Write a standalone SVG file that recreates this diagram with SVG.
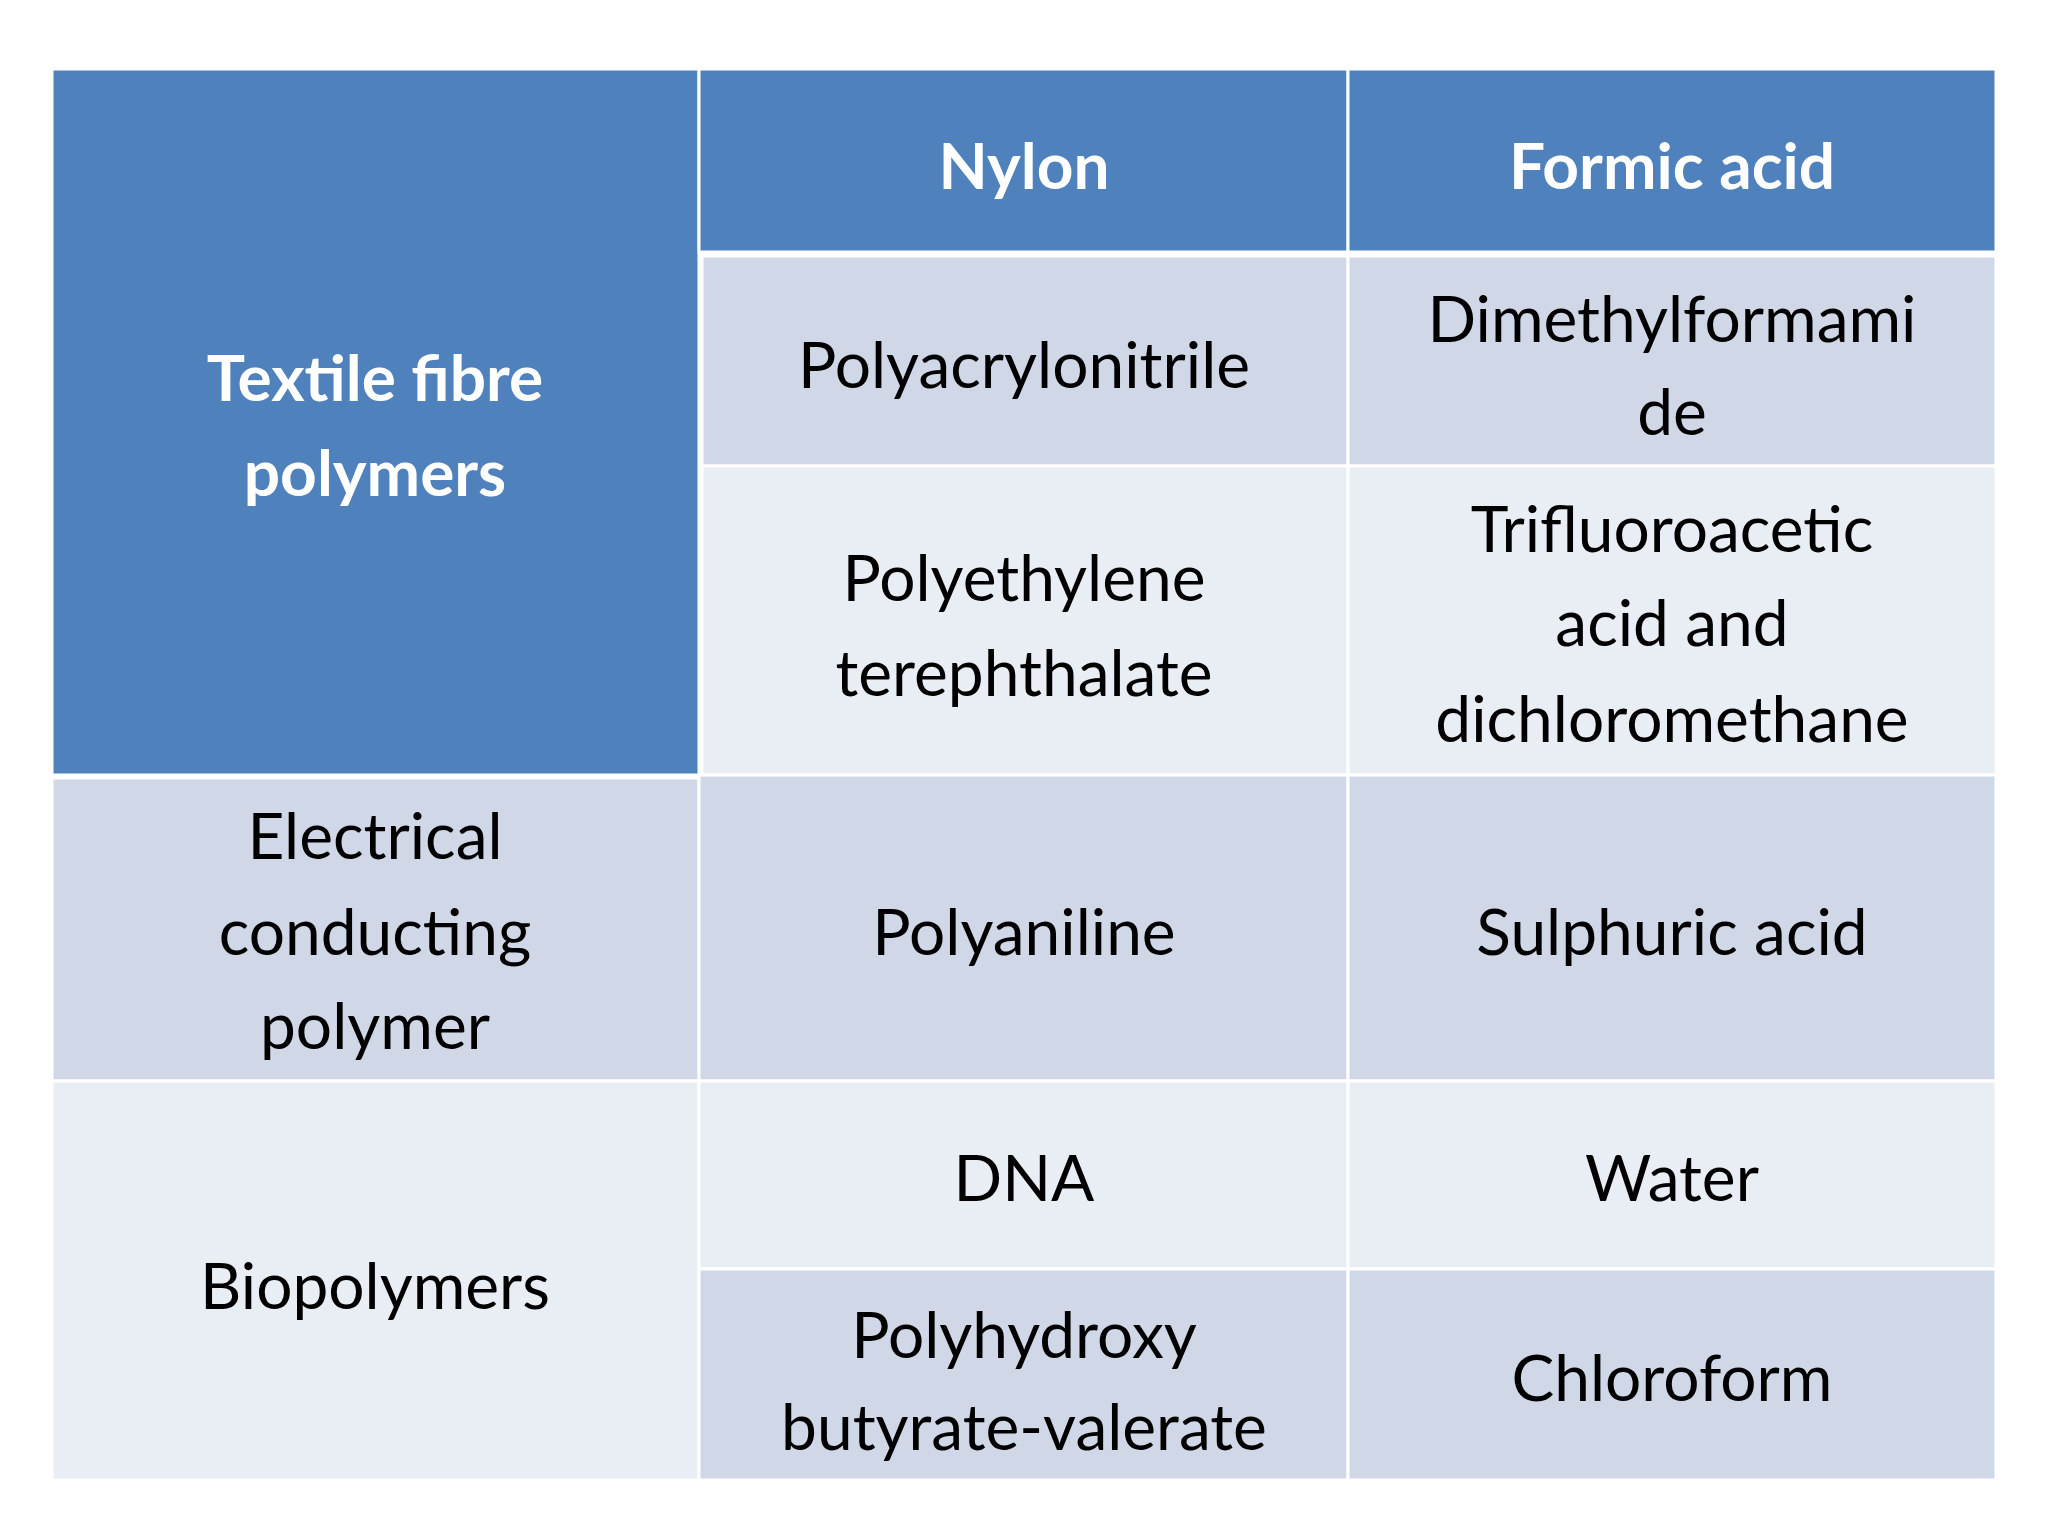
<svg xmlns="http://www.w3.org/2000/svg" width="2048" height="1536" viewBox="0 0 2048 1536">
<style>
.h{fill:#4F81BD}.d{fill:#D0D8E8}.l{fill:#E9EDF4}
rect{stroke:#fff;stroke-width:3}
text{font-family:Lato,"Open Sans",sans-serif;font-size:64px;text-anchor:middle;fill:#000}
.w{fill:#fff;font-weight:bold}
</style>
<rect width="2048" height="1536" fill="#fff" stroke="none"/>
<g id="c00"><rect class="h" x="52" y="69" width="647" height="706"/><text class="w" x="375" y="401">Textile fibre</text><text class="w" x="375" y="496">polymers</text></g>
<g id="c01"><rect class="h" x="699" y="69" width="649" height="183"/><text class="w" x="1024" y="189">Nylon</text></g>
<g id="c02"><rect class="h" x="1348" y="69" width="648" height="183"/><text class="w" x="1672" y="189">Formic acid</text></g>
<g id="c11"><rect class="d" x="702" y="256" width="646" height="210"/><text x="1024" y="388">Polyacrylonitrile</text></g>
<g id="c12"><rect class="d" x="1348" y="256" width="648" height="210"/><text x="1672" y="342">Dimethylformami</text><text x="1672" y="435">de</text></g>
<g id="c21"><rect class="l" x="702" y="466" width="646" height="309"/><text x="1024" y="601">Polyethylene</text><text x="1024" y="696">terephthalate</text></g>
<g id="c22"><rect class="l" x="1348" y="466" width="648" height="309"/><text x="1672" y="552">Trifluoroacetic</text><text x="1672" y="646">acid and</text><text x="1672" y="742">dichloromethane</text></g>
<g id="c30"><rect class="d" x="52" y="778" width="647" height="303"/><text x="375" y="859">Electrical</text><text x="375" y="955">conducting</text><text x="375" y="1049">polymer</text></g>
<g id="c31"><rect class="d" x="699" y="775" width="649" height="306"/><text x="1024" y="955">Polyaniline</text></g>
<g id="c32"><rect class="d" x="1348" y="775" width="648" height="306"/><text x="1672" y="955">Sulphuric acid</text></g>
<g id="c40"><rect class="l" x="52" y="1081" width="647" height="399"/><text x="375" y="1309">Biopolymers</text></g>
<g id="c41"><rect class="l" x="699" y="1081" width="649" height="188"/><text x="1024" y="1201">DNA</text></g>
<g id="c42"><rect class="l" x="1348" y="1081" width="648" height="188"/><text x="1672" y="1201">Water</text></g>
<g id="c51"><rect class="d" x="699" y="1269" width="649" height="211"/><text x="1024" y="1358">Polyhydroxy</text><text x="1024" y="1450">butyrate-valerate</text></g>
<g id="c52"><rect class="d" x="1348" y="1269" width="648" height="211"/><text x="1672" y="1401">Chloroform</text></g>
<g id="connectors"/>
</svg>
